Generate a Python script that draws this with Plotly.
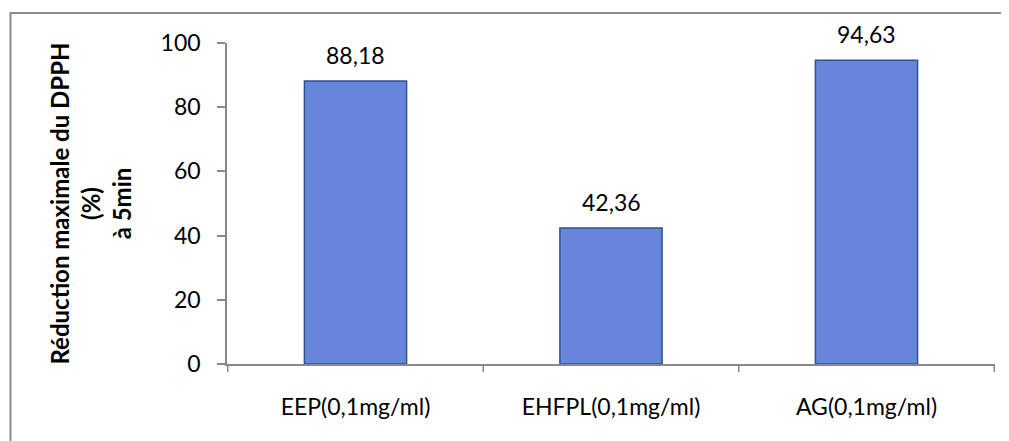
import plotly.graph_objects as go

categories = ["EEP(0,1mg/ml)", "EHFPL(0,1mg/ml)", "AG(0,1mg/ml)"]
values = [88.18, 42.36, 94.63]
value_labels = ["88,18", "42,36", "94,63"]
y_ticks = [0, 20, 40, 60, 80, 100]
y_title = "<b>Réduction maximale du DPPH<br>(%)<br>à 5min</b>"

FONT = "Lato"

fig = go.Figure(go.Bar(
    x=categories, y=values,
    marker=dict(color="#6586d9", line=dict(color="#34508f", width=1.5)),
    width=0.4,
    hoverinfo="skip",
))

for c, v, t in zip(categories, values, value_labels):
    fig.add_annotation(x=c, y=v, text=t, showarrow=False, yanchor="bottom",
                       yshift=10, font=dict(family=FONT, size=23, color="#000"))

# page has 8px body margin; figure is sized to fit the 1009x441 window
W, H = 1001, 433
L, T = 219, 35
pw, ph = 768, 321
R, B = W - L - pw, H - T - ph

fig.update_layout(
    width=W, height=H,
    margin=dict(l=L, r=R, t=T, b=B),
    paper_bgcolor="white", plot_bgcolor="white",
    showlegend=False,
    font=dict(family=FONT, size=23, color="#000"),
    bargap=0.6,
)
fig.update_xaxes(
    showline=True, linecolor="#888", linewidth=1.5,
    ticks="", tickfont=dict(family=FONT, size=23),
    ticklabelstandoff=22,
    showgrid=False,
)
fig.update_yaxes(
    range=[0, 100], tickvals=y_ticks,
    showline=True, linecolor="#888", linewidth=1.5,
    ticks="outside", ticklen=8, tickcolor="#888", tickwidth=1.5,
    ticklabelstandoff=12,
    showgrid=False, zeroline=False,
    tickfont=dict(family=FONT, size=23),
    title=dict(text=y_title, font=dict(family=FONT, size=24), standoff=22),
)

# category separator ticks on x axis
for i in range(len(categories) + 1):
    fig.add_shape(type="line", xref="x", yref="paper",
                  x0=i - 0.5, x1=i - 0.5, y0=0, y1=-8 / ph,
                  line=dict(color="#888", width=1.5))

# outer chart border
fig.add_shape(type="rect", xref="paper", yref="paper",
              x0=(2.5 - L) / pw, x1=(997 - L) / pw,
              y0=-(B + 5) / ph, y1=(T + ph - 5) / ph,
              line=dict(color="#8c8c8c", width=2), fillcolor="rgba(0,0,0,0)",
              layer="below")

fig.write_html("out.html")
